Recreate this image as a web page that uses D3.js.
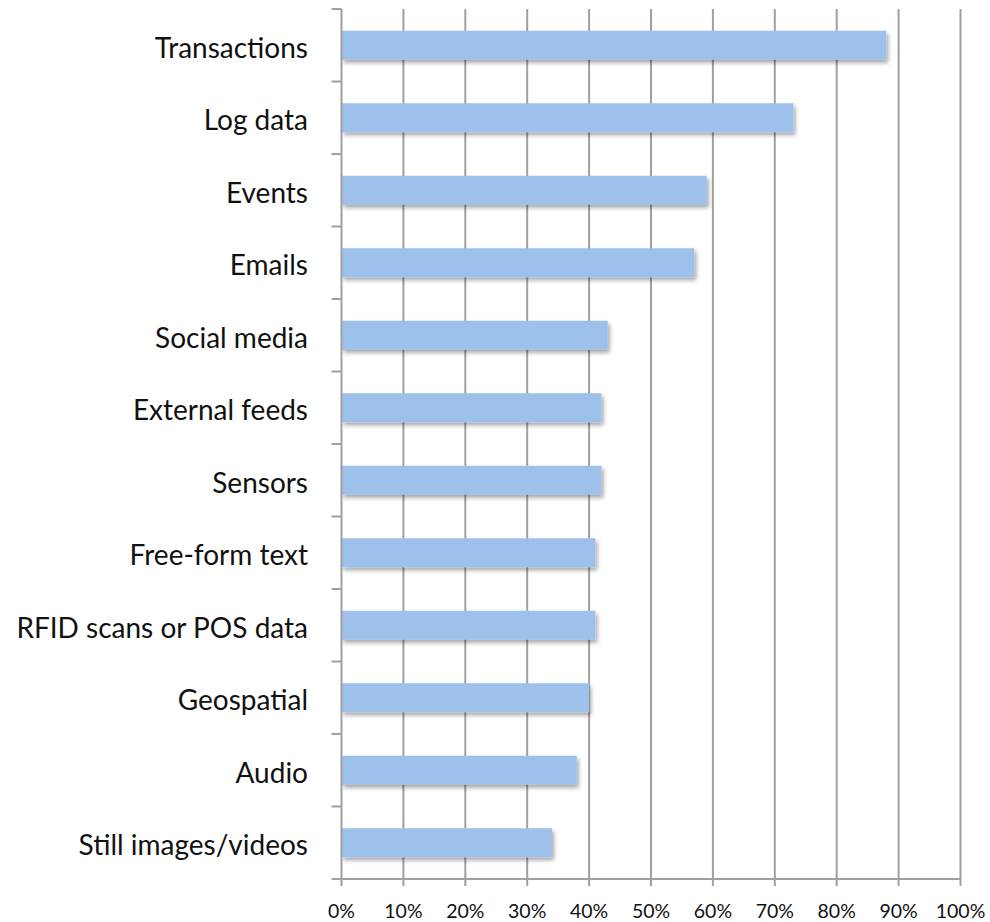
<!DOCTYPE html>
<html><head><meta charset="utf-8">
<script src="https://cdn.jsdelivr.net/npm/d3@7"></script>
<style>body{margin:0;background:#fff;} text{font-family:Lato,"Open Sans",sans-serif;fill:#111;}</style>
</head><body>
<svg id="c" width="990" height="922"></svg>
<script>
const categories = ["Transactions","Log data","Events","Emails","Social media","External feeds","Sensors","Free-form text","RFID scans or POS data","Geospatial","Audio","Still images/videos"];
const values = [88,73,59,57,43,42,42,41,41,40,38,34];
const xTicks = [0,10,20,30,40,50,60,70,80,90,100];

(function(){
const svg = d3.select("#c");
const pLeft = 341.5, pRight = 960.5, pTop = 9, pBottom = 879;
const x = d3.scaleLinear().domain([0,100]).range([pLeft,pRight]);
const y = d3.scaleBand().domain(categories).range([pTop,pBottom]).paddingInner(0.6).paddingOuter(0.3);

const defs = svg.append("defs");
const f = defs.append("filter").attr("id","sh").attr("x","-5%").attr("y","-30%").attr("width","115%").attr("height","180%");
f.append("feDropShadow").attr("dx",2).attr("dy",3).attr("stdDeviation",2.2).attr("flood-color","#000").attr("flood-opacity",0.35);

svg.append("g").selectAll("line").data(xTicks.slice(1)).join("line")
  .attr("x1",d=>x(d)).attr("x2",d=>x(d)).attr("y1",pTop).attr("y2",pBottom+7)
  .attr("stroke","#a0a0a0").attr("stroke-width",2);

svg.append("g").selectAll("rect").data(categories).join("rect")
  .attr("x",x(0)).attr("y",d=>y(d)).attr("height",y.bandwidth())
  .attr("width",(d,i)=>x(values[i])-x(0))
  .attr("fill","#9dc1ea").attr("filter","url(#sh)");

svg.append("line").attr("x1",x(0)).attr("x2",x(100)).attr("y1",pBottom).attr("y2",pBottom).attr("stroke","#a0a0a0").attr("stroke-width",2);
svg.append("line").attr("x1",x(0)).attr("x2",x(0)).attr("y1",pTop).attr("y2",pBottom+7).attr("stroke","#a0a0a0").attr("stroke-width",2);
svg.append("g").selectAll("text").data(xTicks).join("text")
  .attr("x",d=>x(d)).attr("y",918).attr("text-anchor","middle").style("font-size","19.5px")
  .text(d=>d+"%");

const bounds = d3.range(categories.length+1).map(i=>pTop+i*(pBottom-pTop)/categories.length);
svg.append("g").selectAll("line").data(bounds).join("line")
  .attr("x1",x(0)-10).attr("x2",x(0)).attr("y1",d=>d).attr("y2",d=>d)
  .attr("stroke","#a0a0a0").attr("stroke-width",2);

svg.append("g").selectAll("text").data(categories).join("text")
  .attr("x",308).attr("y",d=>y(d)+y.bandwidth()/2).attr("dy","0.44em")
  .attr("text-anchor","end").style("font-size","28px").text(d=>d);
})();
</script>
</body></html>
